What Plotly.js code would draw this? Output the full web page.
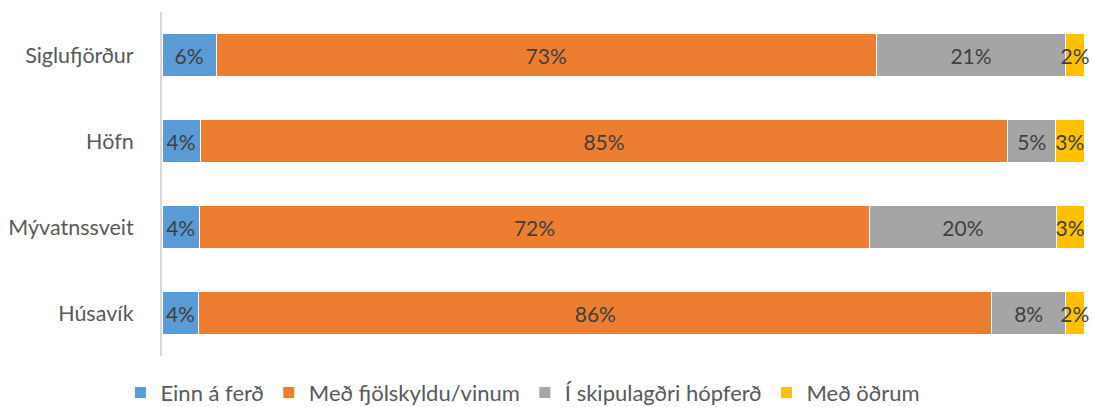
<!DOCTYPE html>
<html>
<head>
<meta charset="utf-8">
<script src="https://cdn.plot.ly/plotly-3.0.1.min.js"></script>
<style>html,body{margin:0;padding:0;background:#fff;}#chart{width:1094px;height:407px;}</style>
</head>
<body>
<div id="chart"></div>
<script>
const places = ["Siglufjörður", "Höfn", "Mývatnssveit", "Húsavík"];
const seriesNames = ["Einn á ferð", "Með fjölskyldu/vinum", "Í skipulagðri hópferð", "Með öðrum"];
const einn = [6, 4, 4, 4];
const fjolskyldu = [73, 85, 72, 86];
const hopferd = [21, 5, 20, 8];
const odrum = [2, 3, 3, 2];
const colors = ["#5B9BD5", "#ED7D31", "#A5A5A5", "#FFC000"];

const series = [einn, fjolskyldu, hopferd, odrum];
const FONT = "Lato, 'Open Sans', sans-serif";

const traces = series.map((vals, i) => ({
  type: "bar",
  orientation: "h",
  name: seriesNames[i],
  y: places,
  x: vals,
  text: vals.map(v => v + "%"),
  textposition: "inside",
  insidetextanchor: "middle",
  textangle: 0,
  constraintext: "none",
  cliponaxis: false,
  textfont: {family: FONT, size: 21, color: "#404040"},
  marker: {color: colors[i], line: {color: "#ffffff", width: 1}},
  hoverinfo: "skip"
}));

const layout = {
  width: 1094,
  height: 407,
  barmode: "stack",
  barnorm: "percent",
  bargap: 0.5,
  margin: {l: 162, r: 10, t: 12, b: 51},
  paper_bgcolor: "#ffffff",
  plot_bgcolor: "#ffffff",
  font: {family: FONT, color: "#595959", size: 18},
  showlegend: true,
  legend: {
    orientation: "h",
    xref: "container",
    yref: "container",
    x: 0.478,
    xanchor: "center",
    y: 0.035,
    yanchor: "middle",
    font: {family: FONT, size: 22, color: "#595959"},
    itemwidth: 30,
    traceorder: "normal"
  },
  xaxis: {
    range: [0, 100],
    showgrid: false,
    zeroline: false,
    showticklabels: false,
    showline: false,
    ticks: ""
  },
  yaxis: {
    autorange: "reversed",
    showline: true,
    linecolor: "#d9d9d9",
    linewidth: 2,
    ticks: "",
    ticklabelstandoff: 22,
    tickfont: {family: FONT, size: 21.5, color: "#595959"},
    showgrid: false,
    zeroline: false
  }
};

Plotly.newPlot("chart", traces, layout, {displayModeBar: false, staticPlot: true});
</script>
</body>
</html>
